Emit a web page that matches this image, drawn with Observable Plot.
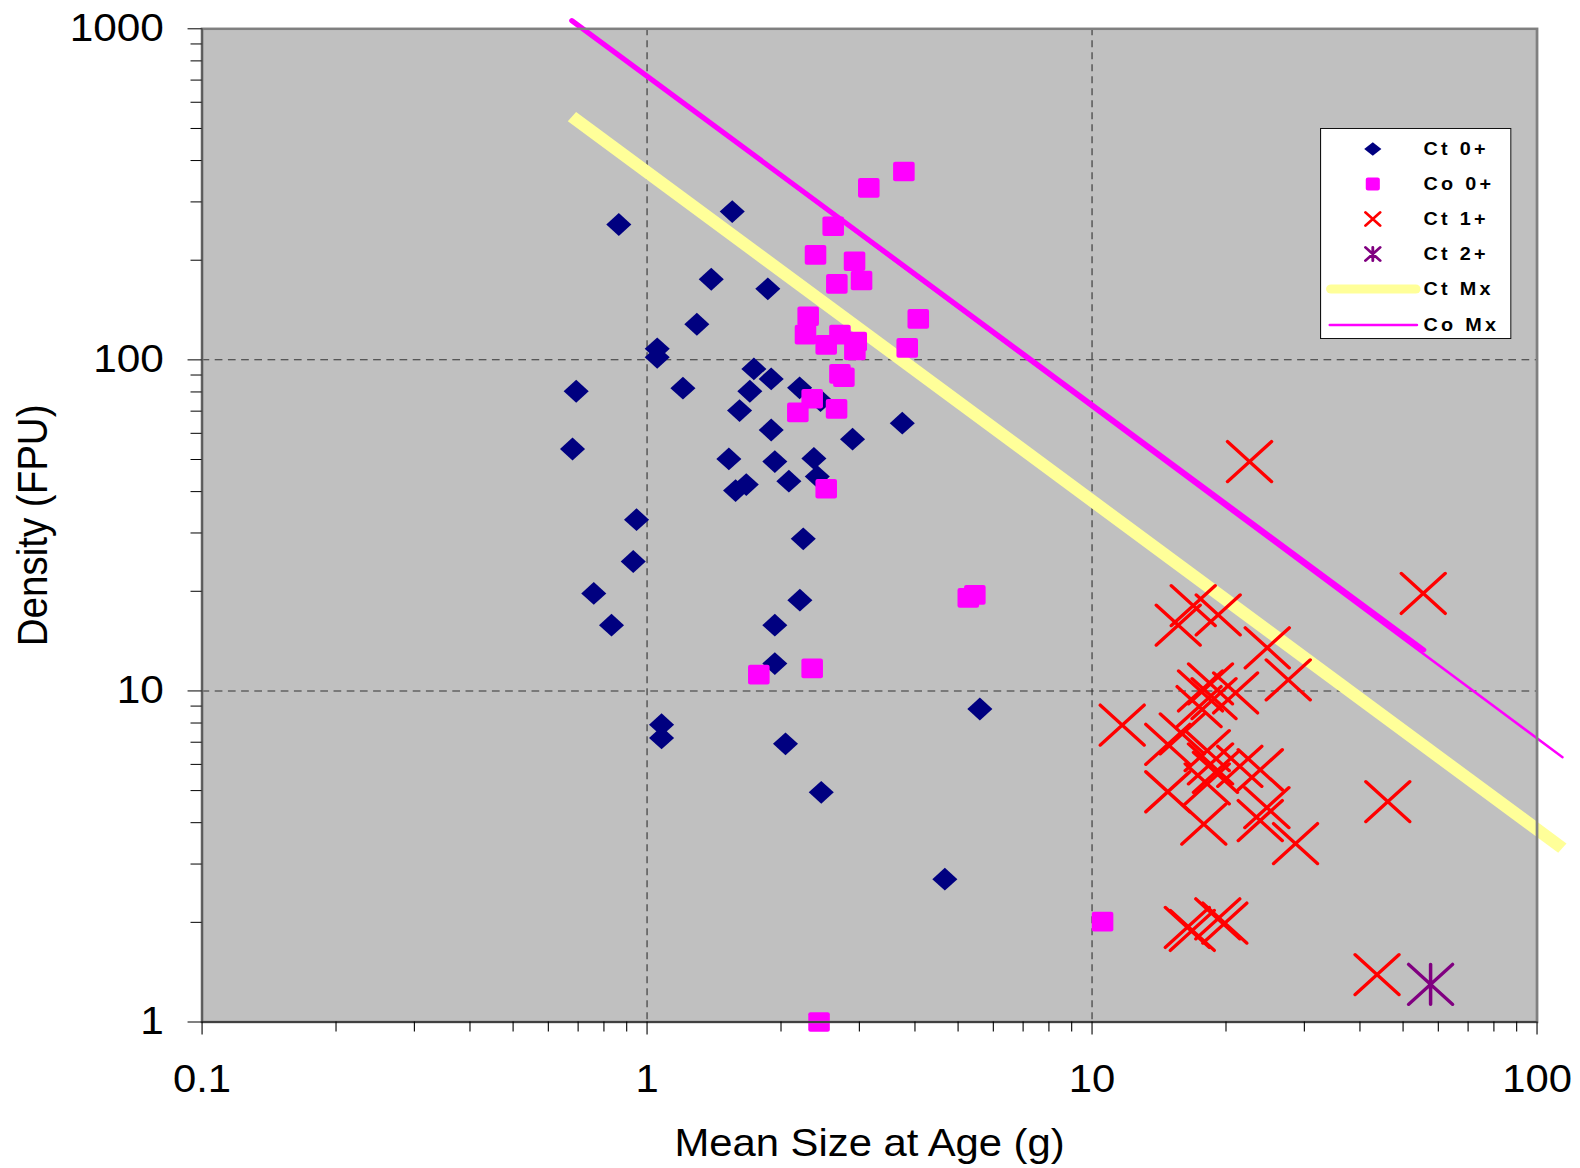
<!DOCTYPE html>
<html>
<head>
<meta charset="utf-8">
<script src="https://cdn.jsdelivr.net/npm/d3@7"></script>
<script src="https://cdn.jsdelivr.net/npm/@observablehq/plot@0.6"></script>
<style>
  html, body { margin: 0; padding: 0; background: #fff; overflow: hidden; }
  #wrap { position: relative; width: 1436px; height: 1168px; transform: scaleX(1.1); transform-origin: 0 0;
          font-family: "Liberation Sans", Arial, sans-serif; }
  #legend { position: absolute; left: 1200px; top: 128px; width: 174px; height: 211px; background: #fff;
            border: 1.5px solid #111; box-sizing: border-box; }
  .row { position: absolute; left: 0; width: 100%; height: 30px; }
  .row svg { position: absolute; left: 0; top: 0; }
  .row span { position: absolute; left: 93px; top: 0; line-height: 30px; font-weight: bold; font-size: 18px;
              letter-spacing: 3px; color: #000; white-space: nowrap; }
</style>
</head>
<body>
<div id="wrap"><div id="legend"></div></div>
<script>
// ---------- data ----------
// Ct 0+ (navy diamonds)
const ct0X = [0.864,1.554,1.394,1.868,1.294,1.054,1.054,0.693,1.204,1.738,1.901,1.702,2.202,1.614,1.901,2.454,3.746,2.896,0.680,1.527,1.937,2.371,2.083,2.413,1.671,1.581,0.947,2.244,0.931,0.759,2.205,0.832,1.937,1.937,5.596,1.078,1.078,2.047,2.463,4.669];
const ct0Y = [256.4,280.5,175.2,163.9,128.1,108.0,101.8,80.4,82.1,93.9,87.6,80.4,82.3,70.3,61.4,75.3,64.4,57.6,53.8,50.2,49.3,50.4,43.0,44.4,42.0,40.3,32.9,28.8,24.6,19.7,18.8,15.8,15.8,12.1,8.82,7.91,7.21,6.92,4.94,2.70];
// Co 0+ (magenta squares)
const co0X = [3.777,3.150,2.620,2.391,2.926,2.670,3.034,4.069,2.302,2.270,2.527,2.713,2.952,2.931,3.843,2.713,2.769,2.350,2.182,2.666,2.527,5.271,5.453,2.350,1.783,10.56,2.435];
const co0Y = [370.7,330.8,253.3,207.6,198.6,169.7,173.6,133.0,135.4,119.2,111.0,119.2,113.6,106.7,108.7,90.7,88.6,76.3,69.4,71.1,40.8,19.1,19.5,11.7,11.2,2.01,1.0];
// Ct 1+ (red crosses)
const ct1X = [22.59,55.5,16.88,15.62,19.21,24.76,27.60,11.69,18.46,21.02,17.53,18.8,17.4,14.80,15.95,14.80,17.83,23.88,21.48,24.71,23.88,28.66,18.15,18.46,18.15,18.94,46.2,43.7,16.37,16.8,19.17,19.88];
const ct1Y = [49.3,19.7,18.1,15.8,16.97,13.5,10.8,7.89,10.5,9.86,10.0,9.48,8.97,6.90,7.42,4.96,3.96,5.78,5.92,4.44,4.06,3.46,6.60,6.02,5.24,5.68,4.63,1.39,1.93,1.89,2.05,1.99];
// Ct 2+ (purple asterisk)
const ct2X = [57.65];
const ct2Y = [1.30];
// Ct Mx (yellow line) and Co Mx (magenta lines)
const ctMxX = [0.678, 114];
const ctMxY = [543, 3.35];
const coMxX = [0.678, 55.6];
const coMxY = [1058, 13.3];
const coMxExtX = [0.678, 114];
const coMxExtY = [1058, 6.31];

// axes
const xTicks = [0.1, 1, 10, 100];
const xTickLabels = ["0.1", "1", "10", "100"];
const xMinor = [0.2,0.3,0.4,0.5,0.6,0.7,0.8,0.9,2,3,4,5,6,7,8,9,20,30,40,50,60,70,80,90];
const yTicks = [1, 10, 100, 1000];
const yTickLabels = ["1", "10", "100", "1000"];
const yMinor = [2,3,4,5,6,7,8,9,20,30,40,50,60,70,80,90,200,300,400,500,600,700,800,900];
const xGrid = [1, 10];
const yGrid = [10, 100];
const xTitle = "Mean Size at Age (g)";
const yTitle = "Density (FPU)";

const legendLabels = ["Ct 0+", "Co 0+", "Ct 1+", "Ct 2+", "Ct Mx", "Co Mx"];
const legendKinds = ["diamond", "square", "x", "asterisk", "thick", "thin"];
const colors = {ct0: "#000080", co0: "#FF00FF", ct1: "#FF0000", ct2: "#800080", ctMx: "#FFFF99", coMx: "#FF00FF"};

// ---------- symbols ----------
const rad = (size) => Math.sqrt(size / Math.PI);
const symDiamond = {draw(c, s) { const r = rad(s); c.moveTo(0, -r); c.lineTo(r, 0); c.lineTo(0, r); c.lineTo(-r, 0); c.closePath(); }};
const symSquare = {draw(c, s) {
  const r = rad(s), k = Math.min(2, r / 3);
  c.moveTo(-r + k, -r);
  c.lineTo(r - k, -r); c.arcTo(r, -r, r, -r + k, k);
  c.lineTo(r, r - k); c.arcTo(r, r, r - k, r, k);
  c.lineTo(-r + k, r); c.arcTo(-r, r, -r, r - k, k);
  c.lineTo(-r, -r + k); c.arcTo(-r, -r, -r + k, -r, k);
  c.closePath();
}};
const symX = {draw(c, s) { const r = rad(s); c.moveTo(-r, -r); c.lineTo(r, r); c.moveTo(-r, r); c.lineTo(r, -r); }};
const symStar = {draw(c, s) { const r = rad(s); c.moveTo(-r, -r); c.lineTo(r, r); c.moveTo(-r, r); c.lineTo(r, -r); c.moveTo(0, -r); c.lineTo(0, r); }};

const rows = (xs, ys) => xs.map((x, i) => ({x, y: ys[i]}));

const W = 1436;
const chart = Plot.plot({
  width: W,
  height: 1168,
  marginLeft: 183.2,
  marginRight: 39.2,
  marginTop: 28.3,
  marginBottom: 146.5,
  style: {fontFamily: "'Liberation Sans', Arial, sans-serif", background: "white", overflow: "visible"},
  x: {type: "log", domain: [0.1, 100]},
  y: {type: "log", domain: [1, 1000]},
  marks: [
    Plot.frame({fill: "#C0C0C0", stroke: "none"}),
    Plot.gridX(xGrid, {stroke: "#333", strokeOpacity: 1, strokeWidth: 1, strokeDasharray: "7,5"}),
    Plot.gridY(yGrid, {stroke: "#333", strokeOpacity: 1, strokeWidth: 1, strokeDasharray: "7,5"}),
    Plot.line(rows(ctMxX, ctMxY), {x: "x", y: "y", stroke: colors.ctMx, strokeWidth: 12, strokeLinecap: "butt"}),
    Plot.line(rows(coMxExtX, coMxExtY), {x: "x", y: "y", stroke: colors.coMx, strokeWidth: 2.5}),
    Plot.line(rows(coMxX, coMxY), {x: "x", y: "y", stroke: colors.coMx, strokeWidth: 5}),
    Plot.dot(rows(ct0X, ct0Y), {x: "x", y: "y", symbol: symDiamond, r: 11.4, fill: colors.ct0, stroke: "none"}),
    Plot.dot(rows(co0X, co0Y), {x: "x", y: "y", symbol: symSquare, r: 9.8, fill: colors.co0, stroke: "none"}),
    Plot.dot(rows(ct1X, ct1Y), {x: "x", y: "y", symbol: symX, r: 20, fill: "none", stroke: colors.ct1, strokeWidth: 3.2, strokeLinecap: "round"}),
    Plot.dot(rows(ct2X, ct2Y), {x: "x", y: "y", symbol: symStar, r: 20, fill: "none", stroke: colors.ct2, strokeWidth: 3.2, strokeLinecap: "round"}),
    Plot.frame({stroke: "#808080", strokeWidth: 2.5, fill: "none"}),
    Plot.ruleY([1], {stroke: "#000", strokeWidth: 1.2}),
    Plot.ruleX([0.1], {stroke: "#444", strokeWidth: 1}),
    Plot.axisX(xMinor, {tickSize: 10, tickFormat: () => "", label: null}),
    Plot.axisX(xTicks, {tickSize: 13, tickPadding: 30, fontSize: 38,
      tickFormat: (d) => xTickLabels[xTicks.indexOf(d)],
      label: xTitle, labelAnchor: "center", labelOffset: 133.5, labelArrow: "none"}),
    Plot.axisY(yMinor, {tickSize: 10, tickFormat: () => "", label: null}),
    Plot.axisY(yTicks, {tickSize: 12.7, tickPadding: 22, fontSize: 38.5,
      tickFormat: (d) => yTickLabels[yTicks.indexOf(d)],
      label: yTitle, labelAnchor: "center", labelOffset: 168, labelArrow: "none"})
  ]
});
document.getElementById("wrap").insertBefore(chart, document.getElementById("legend"));

// ---------- legend ----------
const legend = document.getElementById("legend");
const symCx = 47;
legendLabels.forEach((lab, i) => {
  const kind = legendKinds[i];
  const row = document.createElement("div");
  row.className = "row";
  row.style.top = (21 + 35.2 * i - 15 - 1.5) + "px";
  let inner = "";
  const p = d3.path();
  if (kind === "diamond") { symDiamond.draw(p, 7.8 * 7.8 * Math.PI); inner = `<path d="${p}" transform="translate(${symCx},15) scale(1,0.88)" fill="${colors.ct0}"/>`; }
  if (kind === "square") { symSquare.draw(p, 6.4 * 6.4 * Math.PI); inner = `<path d="${p}" transform="translate(${symCx},15)" fill="${colors.co0}"/>`; }
  if (kind === "x") { symX.draw(p, 6.7 * 6.7 * Math.PI); inner = `<path d="${p}" transform="translate(${symCx},15)" fill="none" stroke="${colors.ct1}" stroke-width="2.6" stroke-linecap="round"/>`; }
  if (kind === "asterisk") { symStar.draw(p, 6.7 * 6.7 * Math.PI); inner = `<path d="${p}" transform="translate(${symCx},15)" fill="none" stroke="${colors.ct2}" stroke-width="2.6" stroke-linecap="round"/>`; }
  if (kind === "thick") inner = `<line x1="9" x2="86" y1="15" y2="15" stroke="${colors.ctMx}" stroke-width="9" stroke-linecap="round"/>`;
  if (kind === "thin") inner = `<line x1="8" x2="87" y1="15" y2="15" stroke="${colors.coMx}" stroke-width="2.6" stroke-linecap="round"/>`;
  row.innerHTML = `<svg width="92" height="30">${inner}</svg><span>${lab}</span>`;
  legend.appendChild(row);
});
</script>
</body>
</html>
